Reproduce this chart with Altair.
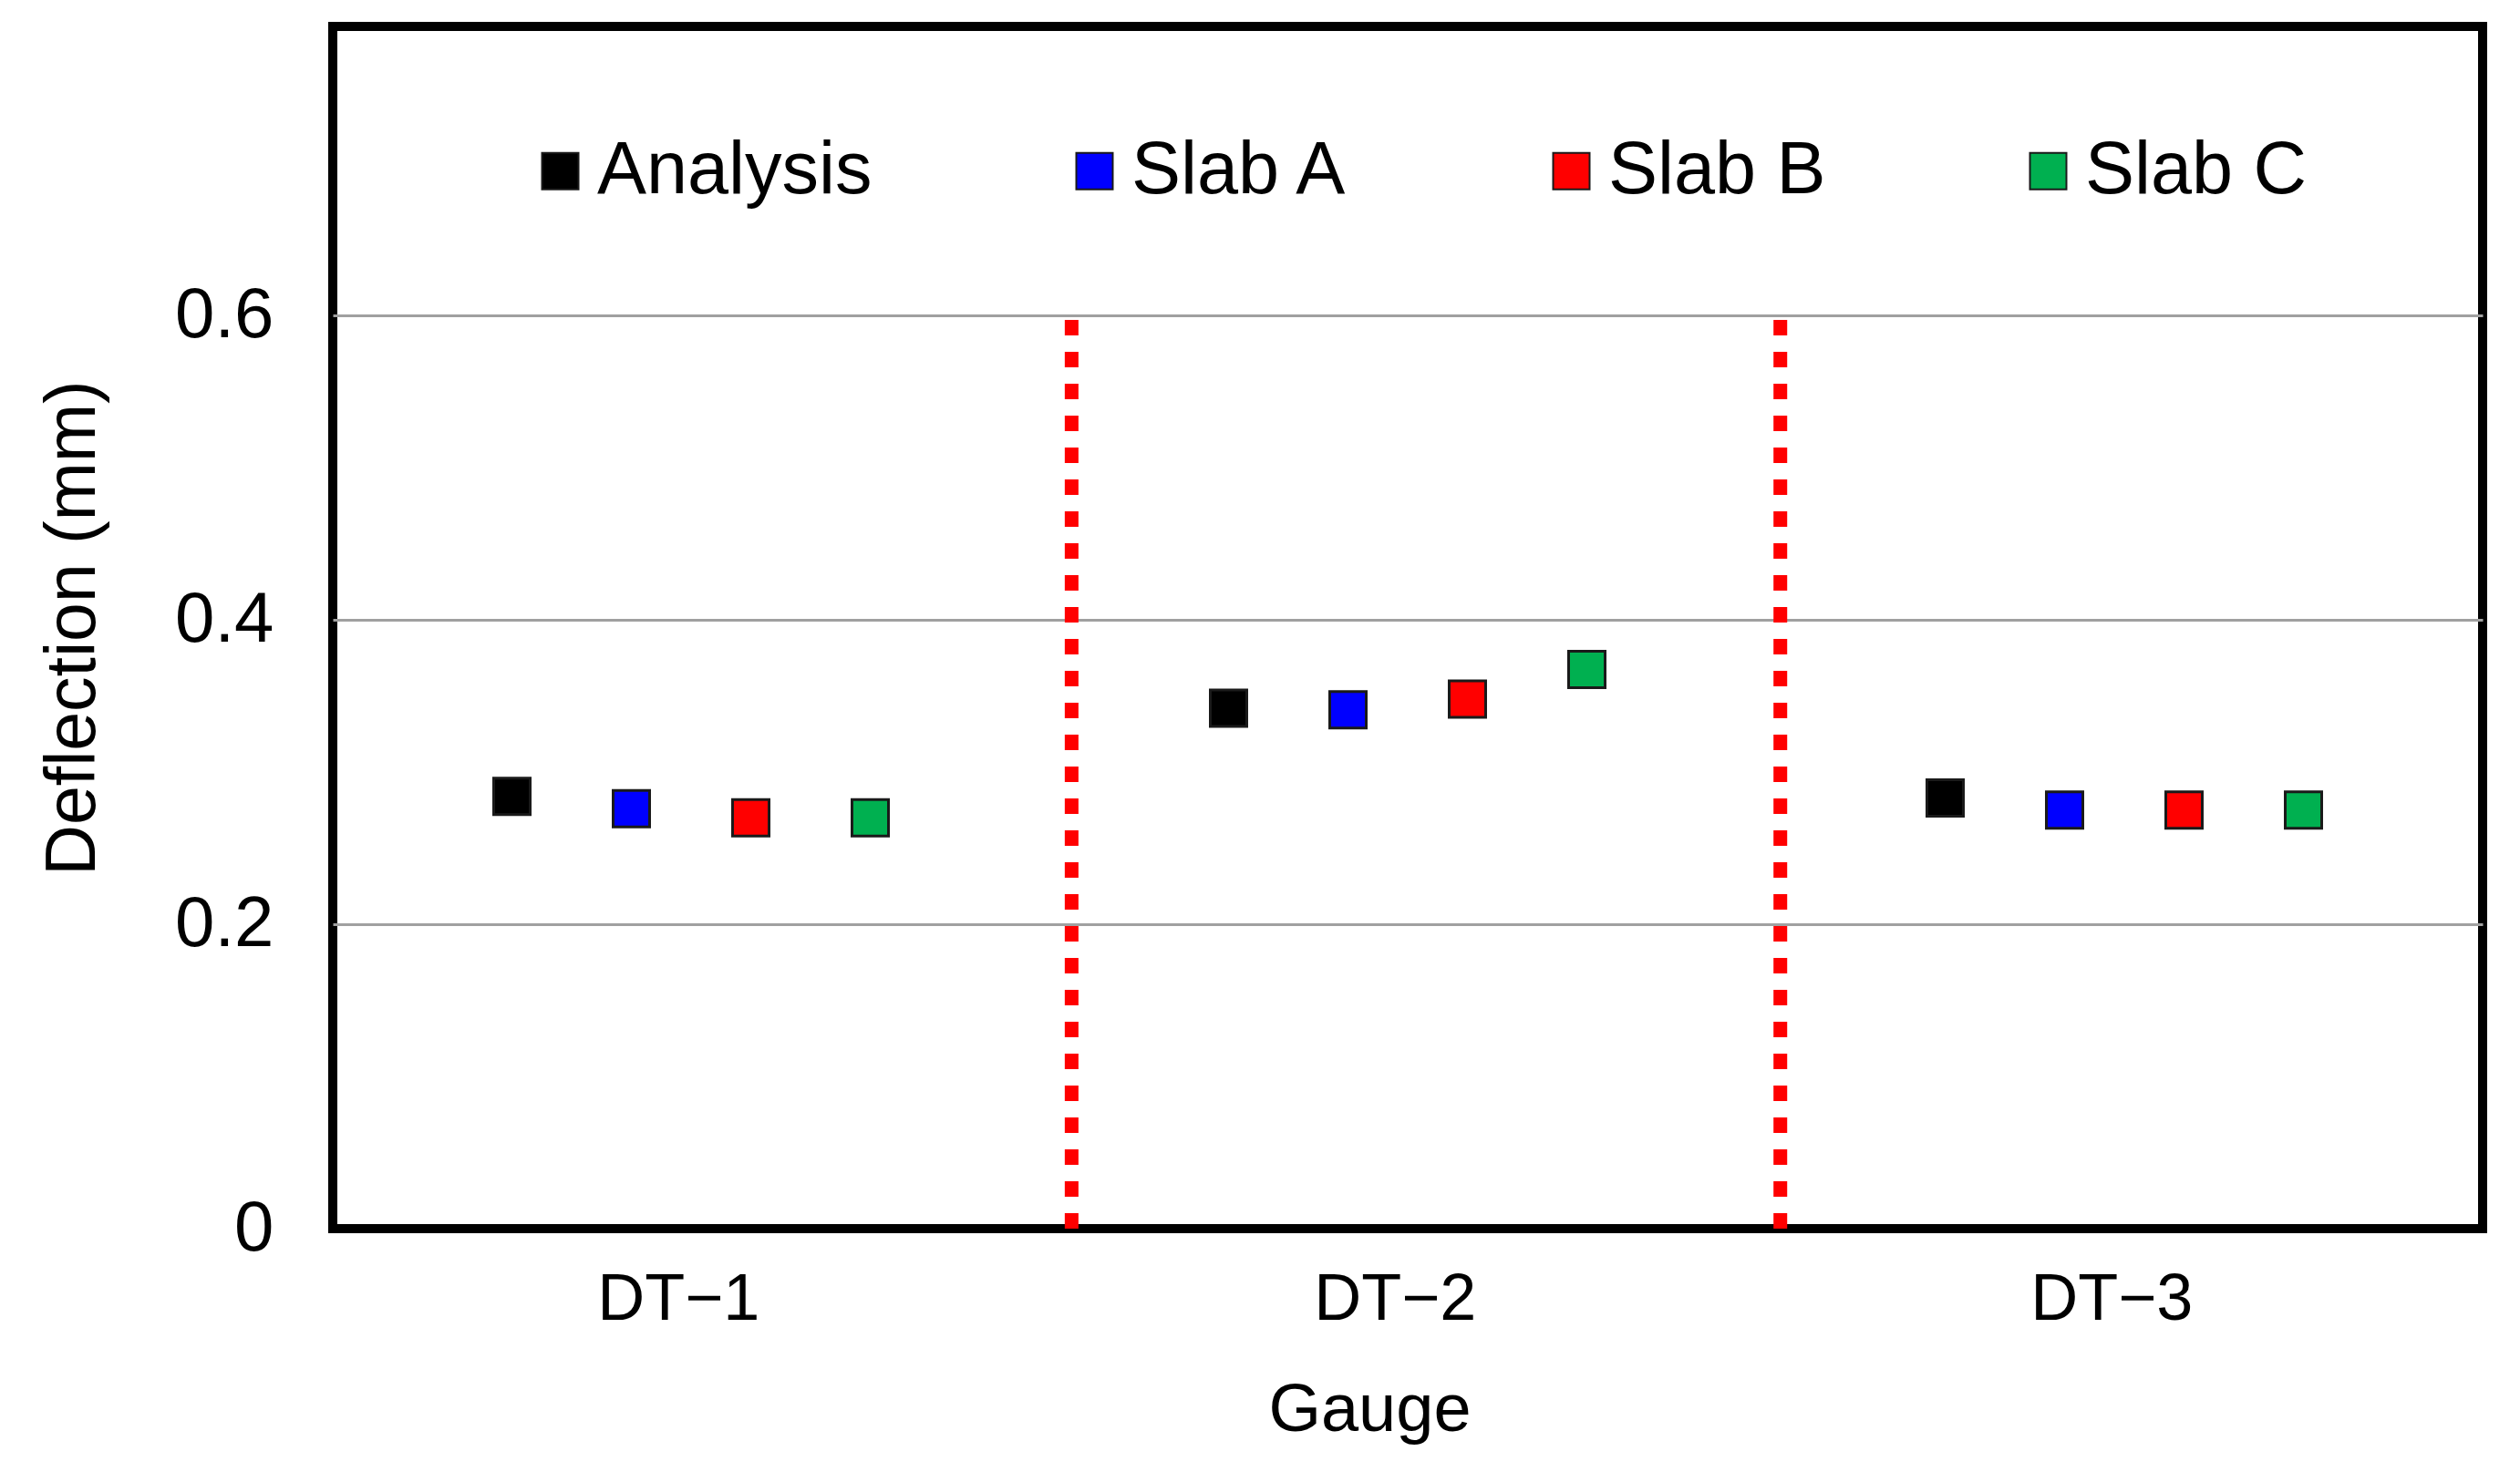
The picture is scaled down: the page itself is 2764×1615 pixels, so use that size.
import altair as alt
import pandas as pd

gauges = ["DT\u22121", "DT\u22122", "DT\u22123"]
series = ["Analysis", "Slab A", "Slab B", "Slab C"]
colors = ["#000000", "#0000FF", "#FF0000", "#00B050"]
analysis = [0.284, 0.342, 0.283]
slab_a = [0.276, 0.341, 0.275]
slab_b = [0.270, 0.348, 0.275]
slab_c = [0.270, 0.3675, 0.275]
separators = [1.031, 2.020]
sep_from = 0.0
sep_to = 0.6
y_ticks = [0, 0.2, 0.4, 0.6]
x_label_pos = [0.482, 1.482, 2.482]

# group layout: each gauge occupies one unit; four series spread in sixths of it
rows = []
for si, (name, vals) in enumerate(zip(series, [analysis, slab_a, slab_b, slab_c])):
    for gi, (g, v) in enumerate(zip(gauges, vals)):
        rows.append({"Gauge": g, "Series": name, "Deflection": v,
                     "pos": gi + 0.5 + (si - 1.5) / 6.0})
df = pd.DataFrame(rows)

sep_df = pd.DataFrame({"pos": separators, "y0": [sep_from] * 2, "y1": [sep_to] * 2})

FONT = "Liberation Sans"

yscale = alt.Scale(domain=[0, 0.79], nice=False, zero=True)
xscale = alt.Scale(domain=[0, len(gauges)], nice=False, zero=False)

label_expr = " : ".join(
    [f"datum.value < {i + 1} ? '{g}'" for i, g in enumerate(gauges[:-1])] + [f"'{gauges[-1]}'"]
)

points = alt.Chart(df).mark_point(
    shape="square", filled=True, size=1600, opacity=1,
    stroke="#1a1a1a", strokeWidth=3
).encode(
    x=alt.X("pos:Q", scale=xscale,
            axis=alt.Axis(title="Gauge", values=x_label_pos,
                          labelExpr=label_expr, labelAngle=0, ticks=False, tickSize=0,
                          domain=False, grid=False, labelPadding=42, titlePadding=50,
                          labelFontSize=72, titleFontSize=74, titleX=1137)),
    y=alt.Y("Deflection:Q", scale=yscale,
            axis=alt.Axis(title="Deflection (mm)", values=y_ticks, format="~g",
                          ticks=False, tickSize=0, domain=False, labelPadding=65,
                          titlePadding=72, labelFontSize=78, titleFontSize=77,
                          grid=True, gridColor="#A0A0A0", gridWidth=3,
                          gridOpacity={"condition": {"test": "datum.value === 0", "value": 0},
                                       "value": 1})),
    color=alt.Color("Series:N", sort=series,
                    scale=alt.Scale(domain=series, range=colors),
                    legend=alt.Legend(title=None, orient="none", legendX=209, legendY=118,
                                      direction="horizontal", columns=4,
                                      columnPadding=203, symbolType="square",
                                      symbolSize=1600, symbolStrokeColor="#1a1a1a",
                                      symbolStrokeWidth=2, labelFontSize=81,
                                      labelOffset=0, labelFont=FONT, labelLimit=2000,
                                      labelColor="#000000", padding=0)),
)

rules = alt.Chart(sep_df).mark_rule(
    color="#FF0000", strokeWidth=15, strokeDash=[17, 18], strokeCap="butt"
).encode(
    x=alt.X("pos:Q", scale=xscale),
    y=alt.Y("y0:Q", scale=yscale),
    y2="y1:Q",
)

chart = alt.layer(rules, points).properties(
    width=2358, height=1319,
    padding={"left": 33, "top": 21, "right": 5, "bottom": 5},
    background="white",
).configure_view(
    stroke="#000000", strokeWidth=10
).configure_axis(
    labelFont=FONT, titleFont=FONT, labelColor="#000000", titleColor="#000000",
    titleFontWeight="normal"
)

chart.save("out.html", embed_options={"renderer": "svg", "actions": False})
